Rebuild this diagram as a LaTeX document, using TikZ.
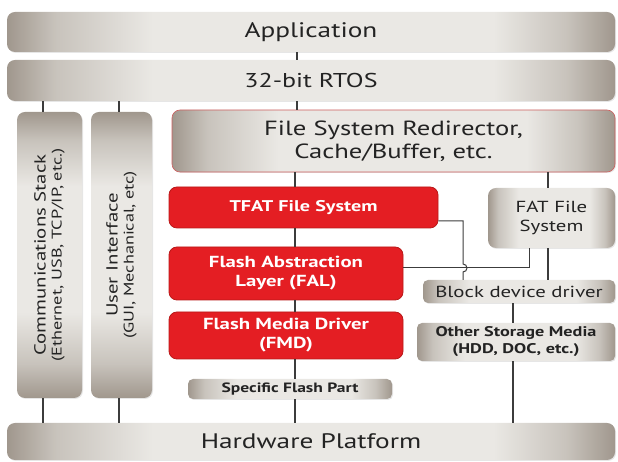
\documentclass[tikz,border=0pt]{standalone}
\usepackage{fontspec}
\setmainfont{PT Sans}[FakeStretch=1.3]
\usetikzlibrary{shadows}
\definecolor{gdark}{RGB}{160,151,141}
\definecolor{gmid}{RGB}{200,195,188}
\definecolor{glight}{RGB}{234,232,228}
\definecolor{txt}{RGB}{35,35,35}
\definecolor{redf}{RGB}{228,30,35}
\definecolor{redd}{RGB}{185,25,25}
\definecolor{ln}{RGB}{60,60,60}
\pgfdeclarehorizontalshading{gbarh}{100bp}{color(0bp)=(gdark); color(25bp)=(gdark); color(29bp)=(gmid); color(37bp)=(glight); color(65bp)=(glight); color(71bp)=(gmid); color(75bp)=(gdark); color(100bp)=(gdark)}
\pgfdeclareverticalshading{gbarv}{100bp}{color(0bp)=(gdark); color(25bp)=(gdark); color(31bp)=(gmid); color(40bp)=(glight); color(62bp)=(glight); color(70bp)=(gmid); color(75bp)=(gdark); color(100bp)=(gdark)}
\begin{document}
\begin{tikzpicture}[x=1pt,y=1pt,
  graybox/.style={rounded corners=8pt, draw=none, shading=gbarh,
     text=txt, align=center, inner sep=0pt, drop shadow={opacity=0.2,shadow xshift=1pt,shadow yshift=-1pt}},
  vbox/.style={rounded corners=8pt, draw=none, shading=gbarv,
     text=txt, align=center, inner sep=0pt, rotate=90, drop shadow={opacity=0.2,shadow xshift=1pt,shadow yshift=-1pt}},
  redbox/.style={rounded corners=8pt, draw=redd, line width=0.8pt, fill=redf, text=white, align=center,
     inner sep=0pt},
  conn/.style={draw=ln, line width=1.3pt}]
\useasboundingbox (0,0) rectangle (618,462);
% top bars
\node[graybox, minimum width=608, minimum height=40, font=\fontsize{21}{23}\selectfont] (app) at (311,430) {Application};
\node[graybox, minimum width=608, minimum height=41, font=\fontsize{20}{22}\selectfont] (rtos) at (311,381.5) {32-bit RTOS};
% vertical boxes
\node[vbox, minimum width=286, minimum height=65] (comms) at (49.5,207)
  {\fontsize{16}{18}\selectfont Communications Stack\\[4pt]\fontsize{14}{17}\selectfont (Ethernet, USB, TCP/IP, etc.)};
\node[vbox, minimum width=286, minimum height=61] (ui) at (121.5,207)
  {\fontsize{16}{18}\selectfont User Interface\\[4pt]\fontsize{14}{17}\selectfont (GUI, Mechanical, etc)};
% redirector
\node[graybox, draw=redd!70, line width=0.6pt, minimum width=443, minimum height=62, font=\fontsize{20.5}{23}\selectfont] (redir) at (393.5,321) {File System Redirector,\\Cache/Buffer, etc.};
% red boxes
\node[redbox, minimum width=269, minimum height=41, font=\fontsize{15.5}{18}\selectfont\bfseries] (tfat) at (303.5,254.5) {TFAT File System};
\node[redbox, minimum width=234, minimum height=53, font=\fontsize{16}{19}\selectfont\bfseries] (fal) at (286,188.5) {Flash Abstraction\\Layer (FAL)};
\node[redbox, minimum width=234, minimum height=47, font=\fontsize{16}{19}\selectfont\bfseries] (fmd) at (286,126.5) {Flash Media Driver\\(FMD)};
% right side gray boxes
\node[graybox, minimum width=127, minimum height=60, font=\fontsize{16}{19}\selectfont] (fat) at (551.5,244) {FAT File\\System};
\node[graybox, rounded corners=5pt, minimum width=192, minimum height=23, font=\fontsize{16}{18}\selectfont] (block) at (519,170.5) {Block device driver};
\node[graybox, rounded corners=5pt, minimum width=198, minimum height=38, font=\fontsize{14}{17}\selectfont\bfseries] (other) at (516,120) {Other Storage Media\\(HDD, DOC, etc.)};
\node[graybox, rounded corners=5pt, minimum width=204, minimum height=20, font=\fontsize{13.5}{15}\selectfont\bfseries] (sfp) at (290,73) {Specific Flash Part};
% hardware
\node[graybox, minimum width=608, minimum height=37, font=\fontsize{21}{23}\selectfont] (hw) at (311,20.5) {Hardware Platform};
% helper coordinates
\coordinate (cx) at (43,0);
\coordinate (ux) at (119,0);
\coordinate (mx) at (297,0);
\coordinate (sx) at (295,0);
\coordinate (fx) at (548,0);
\coordinate (bx) at (513,0);
\coordinate (hop) at (463,194);
\coordinate (tfy) at (0,241);
\coordinate (jx) at (529,0);
% connectors
\draw[conn] (app.south -| mx) -- (rtos.north -| mx);
\draw[conn] (rtos.south -| mx) -- (redir.north -| mx);
\draw[conn] (rtos.south -| cx) -- (comms.east -| cx);
\draw[conn] (rtos.south -| ux) -- (ui.east -| ux);
\draw[conn] (comms.west -| cx) -- (hw.north -| cx);
\draw[conn] (ui.west -| ux) -- (hw.north -| ux);
\draw[conn] (redir.south -| sx) -- (tfat.north -| sx);
\draw[conn] (tfat.south -| sx) -- (fal.north -| sx);
\draw[conn] (fal.south -| sx) -- (fmd.north -| sx);
\draw[conn] (fmd.south -| sx) -- (sfp.north -| sx);
\draw[conn] (sfp.south -| sx) -- (hw.north -| sx);
\draw[conn] (redir.south -| fx) -- (fat.north -| fx);
\draw[conn] (fat.south -| fx) -- (block.north -| fx);
\draw[conn] (block.south -| bx) -- (other.north -| bx);
\draw[conn] (other.south -| bx) -- (hw.north -| bx);
\draw[conn, line width=1pt] (tfat.east |- tfy) -- (hop |- tfy) -- ([yshift=4pt]hop) arc[start angle=90, end angle=-90, radius=4pt] -- (hop |- block.north);
\draw[conn, line width=1pt] (fal.east |- hop) -- (jx |- hop) -- (jx |- fat.south);
\end{tikzpicture}
\end{document}
